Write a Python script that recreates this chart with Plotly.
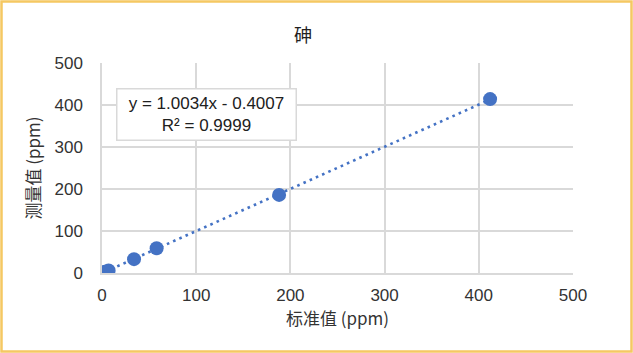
import plotly.graph_objects as go
import numpy as np

# data
standard = [3, 7, 34, 58, 188, 412]
measured = [3, 6, 33, 59, 186, 414]
slope = 1.0034
intercept = -0.4007
r2 = 0.9999
title = "砷"
x_title = "标准值 (ppm)"
y_title = "测量值 (ppm)"
tick_vals = [0, 100, 200, 300, 400, 500]

W, H = 633, 353
L, R, T, B = 102, 60, 63, 80

trend_x = np.array([min(standard), max(standard)])
trend_y = slope * trend_x + intercept

fnt = "Liberation Sans, Arial, Noto Sans CJK SC, sans-serif"
cjk = "Noto Sans CJK SC, Liberation Sans, sans-serif"
blue = "#4472C4"
grid = "#D9D9D9"
txt = "#333333"

fig = go.Figure()
fig.add_trace(go.Scatter(x=trend_x, y=trend_y, mode="lines",
                         line=dict(color=blue, width=2.6, dash="2.6px,4.2px"),
                         hoverinfo="skip", showlegend=False))
fig.add_trace(go.Scatter(x=standard, y=measured, mode="markers",
                         marker=dict(color=blue, size=14, line=dict(width=0)),
                         showlegend=False))

pw = W - L - R
ph = H - T - B
fig.update_layout(
    width=W, height=H,
    margin=dict(l=L, r=R, t=T, b=B),
    paper_bgcolor="white", plot_bgcolor="white",
    font=dict(family=fnt, size=17, color=txt),
    title=dict(text=title, x=303 / W, xanchor="center",
               y=1 - 36 / H, yanchor="middle",
               font=dict(family=cjk, size=18, color="#202020")),
    xaxis=dict(range=[0, 500], tickvals=tick_vals, showgrid=True, gridcolor=grid,
               gridwidth=1.5, zeroline=False, showline=True, linecolor=grid, linewidth=1.5,
               ticks="", ticklabelstandoff=6,
               title=dict(text=x_title, standoff=6,
                          font=dict(family=cjk, size=17, color=txt)),
               fixedrange=True),
    yaxis=dict(range=[0, 500], tickvals=tick_vals, showgrid=True, gridcolor=grid,
               gridwidth=1.5, zeroline=False, showline=True, linecolor=grid, linewidth=1.5,
               ticks="", ticklabelstandoff=14,
               title=dict(text=y_title, standoff=10,
                          font=dict(family=cjk, size=17, color=txt)),
               fixedrange=True),
    annotations=[dict(
        text=f"y = {slope:.4f}x - {abs(intercept):.4f}<br>R² = {r2:.4f}",
        xref="paper", yref="paper",
        x=(206 - L) / pw, y=(H - B - 114) / ph,
        xanchor="center", yanchor="middle", showarrow=False,
        align="center", width=174, height=46,
        bgcolor="white", bordercolor=grid, borderwidth=1.5, borderpad=2,
        font=dict(family=fnt, size=17, color="#202020"))],
    shapes=[dict(type="rect", xref="paper", yref="paper",
                 x0=(1.5 - L) / pw, x1=(W - 1.5 - L) / pw,
                 y0=-(B - 1.5) / ph, y1=(H - B - 1.5) / ph,
                 line=dict(color="#F5C862", width=2.5), layer="above")],
)

fig.write_html("out.html")
